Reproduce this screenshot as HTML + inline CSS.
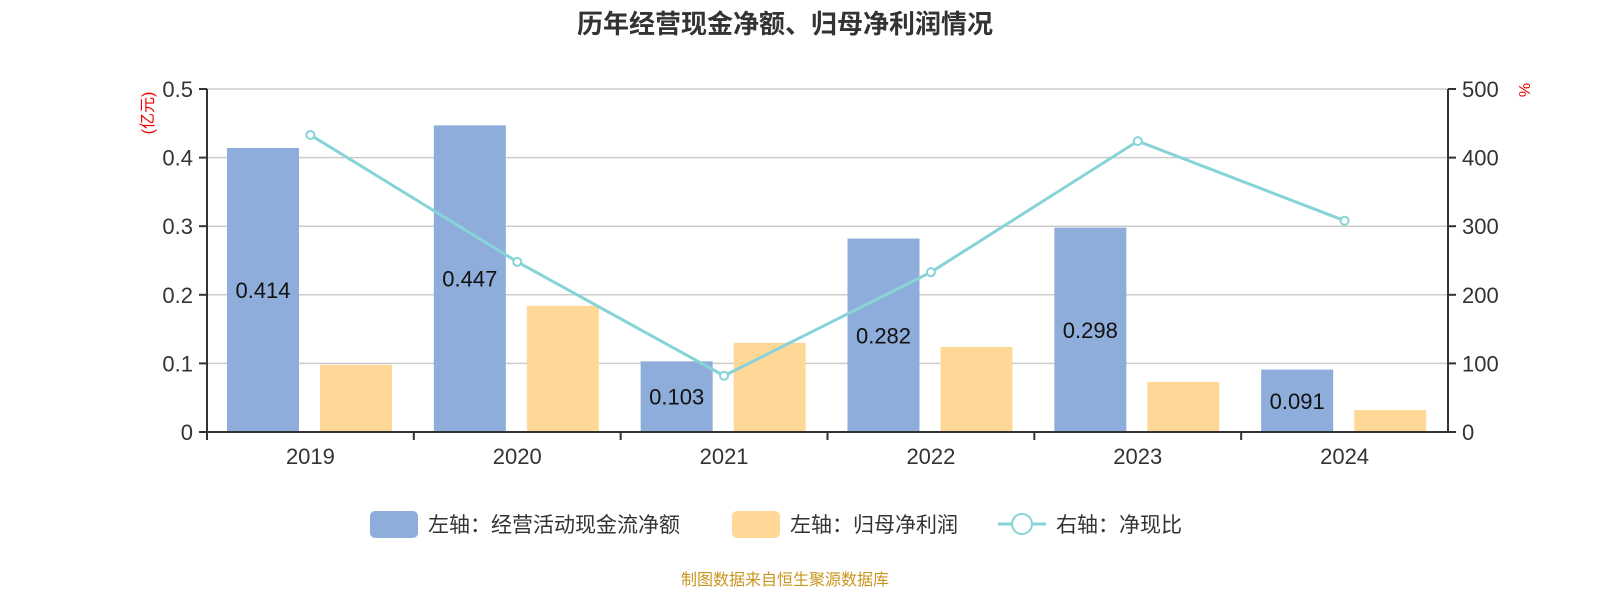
<!DOCTYPE html>
<html><head><meta charset="utf-8"><style>
body{margin:0;background:#fff;}
svg text{font-family:"Liberation Sans","Noto Sans CJK SC",sans-serif;}
</style></head><body>
<svg id="c" width="1600" height="600" xmlns="http://www.w3.org/2000/svg">
<text x="785" y="33" text-anchor="middle" font-size="26" font-weight="bold" fill="#333">历年经营现金净额、归母净利润情况</text>
<text transform="translate(153,113) rotate(-90)" text-anchor="middle" font-size="16" fill="#e00">(亿元)</text>
<text transform="translate(1530,90) rotate(-90)" text-anchor="middle" font-size="16" fill="#e00">%</text>
<g id="grid"></g><g id="bars"></g><g id="line"></g><g id="axes"></g>
<g>
<rect x="370" y="511" width="48" height="27" rx="5" fill="#8eadda"/>
<text x="428" y="532" font-size="21" fill="#333">左轴：经营活动现金流净额</text>
<rect x="732" y="511" width="48" height="27" rx="5" fill="#ffd898"/>
<text x="790" y="532" font-size="21" fill="#333">左轴：归母净利润</text>
<line x1="998" y1="524" x2="1046" y2="524" stroke="#86d4d8" stroke-width="3"/>
<circle cx="1022" cy="524" r="10" fill="#fff" stroke="#86d4d8" stroke-width="2"/>
<text x="1056" y="532" font-size="21" fill="#333">右轴：净现比</text>
</g>
<text x="785" y="585" text-anchor="middle" font-size="16" fill="#c8961e">制图数据来自恒生聚源数据库</text>
</svg>
<script>
const categories=["2019","2020","2021","2022","2023","2024"];
const cashFlow=[0.414,0.447,0.103,0.282,0.298,0.091];
const netProfit=[0.098,0.184,0.130,0.124,0.073,0.032];
const ratio=[433,248,82,233,424,308];
const leftTicks=["0","0.1","0.2","0.3","0.4","0.5"];
const rightTicks=["0","100","200","300","400","500"];
const NS="http://www.w3.org/2000/svg";
const L=207,R=1448,T=89,B=432;
const bw=(R-L)/categories.length;
const yL=v=>B-(v/0.5)*(B-T);
const yR=v=>B-(v/500)*(B-T);
function mk(p,tag,a){const e=document.createElementNS(NS,tag);for(const k in a)e.setAttribute(k,a[k]);p.appendChild(e);return e;}
const grid=document.getElementById('grid'),bars=document.getElementById('bars'),line=document.getElementById('line'),axes=document.getElementById('axes');
leftTicks.forEach((t,i)=>{
  const y=yL(+t);
  if(i>0){const g=mk(grid,'line',{x1:L,x2:R,y1:y,y2:y,stroke:'#ccc','stroke-width':1.5});
  
  }
  mk(axes,'line',{x1:L-8,x2:L,y1:y,y2:y,stroke:'#333','stroke-width':2});
  const tx=mk(axes,'text',{x:L-14,y:y+8,'text-anchor':'end','font-size':22,fill:'#333'});tx.textContent=t;
  
  
});
rightTicks.forEach(t=>{
  const y=yR(+t);
  mk(axes,'line',{x1:R,x2:R+8,y1:y,y2:y,stroke:'#333','stroke-width':2});
  const tx=mk(axes,'text',{x:R+14,y:y+8,'font-size':22,fill:'#333'});tx.textContent=t;
  
  
});
mk(axes,'line',{x1:L,x2:L,y1:T,y2:B,stroke:'#333','stroke-width':2});
mk(axes,'line',{x1:R,x2:R,y1:T,y2:B,stroke:'#333','stroke-width':2});
mk(axes,'line',{x1:L,x2:R,y1:B,y2:B,stroke:'#333','stroke-width':2});
categories.forEach((c,i)=>{
  const x0=L+i*bw;
  mk(axes,'line',{x1:x0,x2:x0,y1:B,y2:B+8,stroke:'#333','stroke-width':2});
  const tx=mk(axes,'text',{x:x0+bw/2,y:B+32,'text-anchor':'middle','font-size':22,fill:'#333'});tx.textContent=c;
  
  
  const b1=mk(bars,'rect',{x:x0+20,y:yL(cashFlow[i]),width:72,height:B-yL(cashFlow[i]),fill:'#8eadda'});
  
  
  const b2=mk(bars,'rect',{x:x0+113,y:yL(netProfit[i]),width:72,height:B-yL(netProfit[i]),fill:'#ffd898'});
  
  
  const lb=mk(bars,'text',{x:x0+56,y:(yL(cashFlow[i])+B)/2+8,'text-anchor':'middle','font-size':22,fill:'#111'});lb.textContent=cashFlow[i];
  
  
});
const pts=ratio.map((v,i)=>[L+i*bw+bw/2,yR(v)]);
const pl=mk(line,'polyline',{points:pts.map(p=>p.join(',')).join(' '),fill:'none',stroke:'#86d4d8','stroke-width':3});


pts.forEach((p,i)=>{const c=mk(line,'circle',{cx:p[0],cy:p[1],r:4,fill:'#fff',stroke:'#86d4d8','stroke-width':2});
  
  });
</script>
</body></html>
